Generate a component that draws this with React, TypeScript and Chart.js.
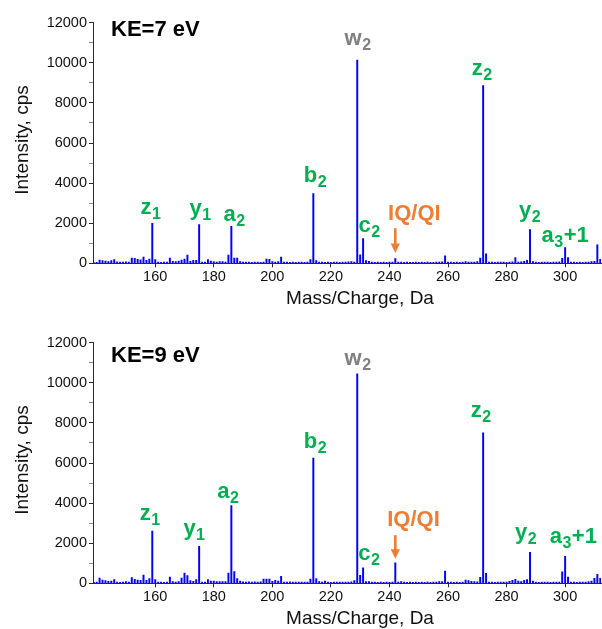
import React, { useEffect, useRef } from 'react';
import { Chart, registerables } from 'chart.js';

Chart.register(...registerables);

// ---------------- DATA ----------------
const MASSES = [
  139, 140, 141, 142, 143, 144, 145, 146, 147, 148,
  149, 150, 151, 152, 153, 154, 155, 156, 157, 158,
  159, 160, 161, 162, 163, 164, 165, 166, 167, 168,
  169, 170, 171, 172, 173, 174, 175, 176, 177, 178,
  179, 180, 181, 182, 183, 184, 185, 186, 187, 188,
  189, 190, 191, 192, 193, 194, 195, 196, 197, 198,
  199, 200, 201, 202, 203, 204, 205, 206, 207, 208,
  209, 210, 211, 212, 213, 214, 215, 216, 217, 218,
  219, 220, 221, 222, 223, 224, 225, 226, 227, 228,
  229, 230, 231, 232, 233, 234, 235, 236, 237, 238,
  239, 240, 241, 242, 243, 244, 245, 246, 247, 248,
  249, 250, 251, 252, 253, 254, 255, 256, 257, 258,
  259, 260, 261, 262, 263, 264, 265, 266, 267, 268,
  269, 270, 271, 272, 273, 274, 275, 276, 277, 278,
  279, 280, 281, 282, 283, 284, 285, 286, 287, 288,
  289, 290, 291, 292, 293, 294, 295, 296, 297, 298,
  299, 300, 301, 302, 303, 304, 305, 306, 307, 308,
  309, 310, 311, 312,
];

const KE7_INTENSITY = [
  40, 50, 165, 130, 115, 85, 130, 180, 70, 60,
  60, 70, 60, 265, 250, 200, 170, 315, 150, 215,
  1990, 180, 60, 50, 60, 55, 265, 100, 80, 115,
  165, 215, 415, 100, 150, 150, 1930, 65, 60, 180,
  115, 85, 60, 85, 85, 60, 415, 1850, 265, 265,
  85, 60, 55, 60, 50, 55, 60, 50, 60, 215,
  200, 85, 60, 85, 315, 60, 55, 50, 60, 50,
  55, 60, 50, 60, 180, 3480, 130, 60, 55, 50,
  55, 50, 60, 55, 50, 60, 55, 70, 80, 60,
  10130, 420, 1230, 130, 100, 60, 50, 55, 50, 55,
  50, 55, 60, 240, 60, 55, 50, 55, 50, 50,
  55, 50, 55, 50, 55, 50, 50, 55, 60, 70,
  370, 60, 55, 50, 55, 50, 60, 90, 60, 55,
  60, 80, 265, 8870, 470, 60, 55, 50, 55, 60,
  55, 50, 60, 70, 290, 60, 70, 100, 150, 1680,
  85, 55, 50, 55, 60, 55, 50, 55, 60, 70,
  250, 785, 290, 60, 55, 50, 55, 50, 55, 60,
  80, 100, 920, 200,
];

const KE9_INTENSITY = [
  50, 60, 265, 165, 130, 100, 115, 180, 65, 50,
  65, 80, 60, 280, 200, 165, 150, 415, 150, 230,
  2600, 180, 60, 55, 50, 60, 315, 85, 65, 85,
  265, 515, 380, 130, 100, 180, 1850, 65, 60, 180,
  115, 115, 80, 85, 80, 85, 515, 3880, 580, 230,
  115, 70, 65, 70, 60, 70, 65, 70, 215, 215,
  215, 100, 150, 115, 350, 60, 65, 70, 60, 65,
  60, 65, 55, 65, 215, 6250, 230, 85, 60, 115,
  55, 50, 60, 55, 60, 55, 65, 60, 70, 130,
  10450, 400, 770, 85, 85, 60, 55, 50, 55, 50,
  55, 50, 60, 1015, 65, 80, 55, 50, 55, 50,
  55, 50, 55, 50, 55, 50, 55, 60, 85, 80,
  615, 60, 55, 50, 55, 50, 60, 165, 130, 100,
  85, 70, 300, 7500, 500, 60, 55, 50, 60, 65,
  65, 55, 100, 150, 200, 115, 80, 150, 185, 1550,
  115, 55, 50, 55, 60, 55, 50, 55, 60, 65,
  570, 1350, 315, 60, 55, 50, 55, 60, 55, 85,
  115, 250, 450, 250,
];

const X_TICKS = [160, 180, 200, 220, 240, 260, 280, 300];
const Y_TICKS = [0, 2000, 4000, 6000, 8000, 10000, 12000];
const Y_MINOR_TICKS = [1000, 3000, 5000, 7000, 9000, 11000];
const X_MIN = 138.75;
const X_MAX = 312.25;
const Y_MAX = 12000;

type PeakLabel = { main: string; sub: string; suffix: string; kind: 'ion' | 'w' | 'iq'; mz: number; level: number };

const KE7_LABELS: PeakLabel[] = [
  { main: 'w', sub: '2', suffix: '', kind: 'w', mz: 229.3, level: 10890 },
  { main: 'z', sub: '2', suffix: '', kind: 'ion', mz: 271.7, level: 9390 },
  { main: 'b', sub: '2', suffix: '', kind: 'ion', mz: 214.7, level: 4060 },
  { main: 'z', sub: '1', suffix: '', kind: 'ion', mz: 158.5, level: 2450 },
  { main: 'y', sub: '1', suffix: '', kind: 'ion', mz: 175.5, level: 2400 },
  { main: 'a', sub: '2', suffix: '', kind: 'ion', mz: 187.1, level: 2100 },
  { main: 'c', sub: '2', suffix: '', kind: 'ion', mz: 233.2, level: 1560 },
  { main: 'IQ/QI', sub: '', suffix: '', kind: 'iq', mz: 248.5, level: 2150 },
  { main: 'y', sub: '2', suffix: '', kind: 'ion', mz: 288.0, level: 2310 },
  { main: 'a', sub: '3', suffix: '+1', kind: 'ion', mz: 300.0, level: 1060 },
];

const KE9_LABELS: PeakLabel[] = [
  { main: 'w', sub: '2', suffix: '', kind: 'w', mz: 229.3, level: 10890 },
  { main: 'z', sub: '2', suffix: '', kind: 'ion', mz: 271.3, level: 8300 },
  { main: 'b', sub: '2', suffix: '', kind: 'ion', mz: 214.7, level: 6730 },
  { main: 'z', sub: '1', suffix: '', kind: 'ion', mz: 158.3, level: 3180 },
  { main: 'y', sub: '1', suffix: '', kind: 'ion', mz: 173.4, level: 2400 },
  { main: 'a', sub: '2', suffix: '', kind: 'ion', mz: 185.0, level: 4230 },
  { main: 'c', sub: '2', suffix: '', kind: 'ion', mz: 233.1, level: 1180 },
  { main: 'IQ/QI', sub: '', suffix: '', kind: 'iq', mz: 248.2, level: 2850 },
  { main: 'y', sub: '2', suffix: '', kind: 'ion', mz: 286.7, level: 2230 },
  { main: 'a', sub: '3', suffix: '+1', kind: 'ion', mz: 302.8, level: 2010 },
];

// arrow: [m/z, start intensity, tip intensity]
const KE7_ARROW = [242, 1750, 515];
const KE9_ARROW = [242, 2400, 1230];

// ---------------- STYLE ----------------
const FONT = "'Liberation Sans', Arial, Helvetica, sans-serif";
const GREEN = '#00b050';
const GRAY = '#808080';
const ORANGE = '#ed7d31';
const BAR = '#0000ff';
const AXIS = '#2a2a2a';
const PLOT_TOP = 22.7;
const PLOT_BOTTOM = 263.3;
const PLOT_LEFT = 93;

Chart.defaults.font.family = FONT;

function colorFor(kind: string) {
  if (kind === 'w') return GRAY;
  if (kind === 'iq') return ORANGE;
  return GREEN;
}

function makeOverlay(title: string, labels: PeakLabel[], arrow: number[], titleDrop: number) {
  return {
    id: 'overlay',
    afterDatasetsDraw(chart: any) {
      const { ctx, chartArea, scales } = chart;
      const xs = scales.x;
      const ys = scales.y;
      ctx.save();
      ctx.textAlign = 'left';
      ctx.textBaseline = 'alphabetic';
      const MAIN = `bold 22px ${FONT}`;
      const SUB = `bold 16px ${FONT}`;
      for (const L of labels) {
        const px = xs.getPixelForValue(L.mz);
        const py = ys.getPixelForValue(L.level);
        ctx.font = MAIN;
        const w1 = ctx.measureText(L.main).width;
        const w3 = L.suffix ? ctx.measureText(L.suffix).width : 0;
        ctx.font = SUB;
        const w2 = L.sub ? ctx.measureText(L.sub).width + 1 : 0;
        let x = px - (w1 + w2 + w3) / 2;
        ctx.fillStyle = colorFor(L.kind);
        ctx.font = MAIN;
        ctx.fillText(L.main, x, py);
        x += w1;
        if (L.sub) {
          ctx.font = SUB;
          ctx.fillText(L.sub, x + 0.5, py + 5);
          x += w2;
        }
        if (L.suffix) {
          ctx.font = MAIN;
          ctx.fillText(L.suffix, x, py);
        }
      }
      // arrow
      const ax = xs.getPixelForValue(arrow[0]);
      const ay0 = ys.getPixelForValue(arrow[1]);
      const ay1 = ys.getPixelForValue(arrow[2]);
      ctx.strokeStyle = ORANGE;
      ctx.fillStyle = ORANGE;
      ctx.lineWidth = 2.6;
      ctx.beginPath();
      ctx.moveTo(ax, ay0);
      ctx.lineTo(ax, ay1 - 8);
      ctx.stroke();
      ctx.beginPath();
      ctx.moveTo(ax - 4.6, ay1 - 9.5);
      ctx.lineTo(ax + 4.6, ay1 - 9.5);
      ctx.lineTo(ax, ay1);
      ctx.closePath();
      ctx.fill();
      // panel title
      ctx.font = `bold 22px ${FONT}`;
      ctx.fillStyle = '#000';
      ctx.fillText(title, chartArea.left + 18, chartArea.top + titleDrop);
      // axis titles
      ctx.font = `19px ${FONT}`;
      ctx.fillStyle = '#111';
      ctx.textAlign = 'center';
      ctx.fillText('Mass/Charge, Da', (chartArea.left + chartArea.right) / 2 + 13, chartArea.bottom + 41);
      ctx.save();
      ctx.translate(28, (chartArea.top + chartArea.bottom) / 2 - 3);
      ctx.rotate(-Math.PI / 2);
      ctx.fillText('Intensity, cps', 0, 0);
      ctx.restore();
      ctx.restore();
    },
  };
}

type PanelProps = {
  intensities: number[];
  labels: PeakLabel[];
  arrow: number[];
  title: string;
  height: number;
  titleDrop: number;
};

function SpectrumPanel({ intensities, labels, arrow, title, height, titleDrop }: PanelProps) {
  const ref = useRef<HTMLCanvasElement>(null);
  useEffect(() => {
    if (!ref.current) return;
    const points = MASSES.map((m, i) => ({ x: m, y: intensities[i] }));
    const chart = new Chart(ref.current, {
      type: 'bar',
      data: {
        datasets: [
          {
            data: points as any,
            backgroundColor: BAR,
            barThickness: 1.3,
            borderWidth: 0,
          },
        ],
      },
      options: {
        animation: false,
        responsive: false,
        maintainAspectRatio: false,
        layout: { padding: { top: PLOT_TOP, right: 1, left: 0, bottom: 0 } },
        plugins: {
          legend: { display: false },
          tooltip: { enabled: false },
          title: { display: false },
        },
        scales: {
          x: {
            type: 'linear',
            min: X_MIN,
            max: X_MAX,
            offset: false,
            grid: {
              display: true,
              offset: false,
              drawOnChartArea: false,
              drawTicks: true,
              tickLength: 4,
              color: AXIS,
              tickColor: AXIS,
            },
            border: { display: true, color: AXIS, width: 1 },
            ticks: {
              autoSkip: false,
              maxRotation: 0,
              padding: 1,
              color: '#111',
              font: { size: 14.5, family: FONT },
              callback: (v: any) => String(v),
            },
            afterBuildTicks: (s: any) => {
              s.ticks = X_TICKS.map((v) => ({ value: v }));
            },
            afterFit: (s: any) => {
              s.height = height - PLOT_BOTTOM;
            },
          },
          y: {
            type: 'linear',
            min: 0,
            max: Y_MAX,
            grid: {
              display: true,
              drawOnChartArea: false,
              drawTicks: true,
              tickLength: 4,
              color: AXIS,
              tickColor: (c: any) => (c.tick && Y_TICKS.includes(c.tick.value) ? AXIS : '#8a8a8a'),
            },
            border: { display: true, color: AXIS, width: 1 },
            ticks: {
              autoSkip: false,
              padding: 2,
              color: '#111',
              font: { size: 14.5, family: FONT },
              callback: (v: any) => (Y_TICKS.includes(Number(v)) ? String(v) : ''),
            },
            afterBuildTicks: (s: any) => {
              s.ticks = [...Y_TICKS, ...Y_MINOR_TICKS].sort((a, b) => a - b).map((v) => ({ value: v }));
            },
            afterFit: (s: any) => {
              s.width = PLOT_LEFT;
            },
          },
        },
      } as any,
      plugins: [makeOverlay(title, labels, arrow, titleDrop)],
    });
    return () => chart.destroy();
  }, []);
  return <canvas ref={ref} width={602} height={height} style={{ display: 'block', width: 602, height }} />;
}

export default function App() {
  return (
    <div style={{ position: 'absolute', left: 0, top: 0, width: 602, height: 629, background: '#fff', overflow: 'hidden' }}>
      <SpectrumPanel intensities={KE7_INTENSITY} labels={KE7_LABELS} arrow={KE7_ARROW} title="KE=7 eV" height={320} titleDrop={13.3} />
      <SpectrumPanel intensities={KE9_INTENSITY} labels={KE9_LABELS} arrow={KE9_ARROW} title="KE=9 eV" height={309} titleDrop={19} />
    </div>
  );
}
